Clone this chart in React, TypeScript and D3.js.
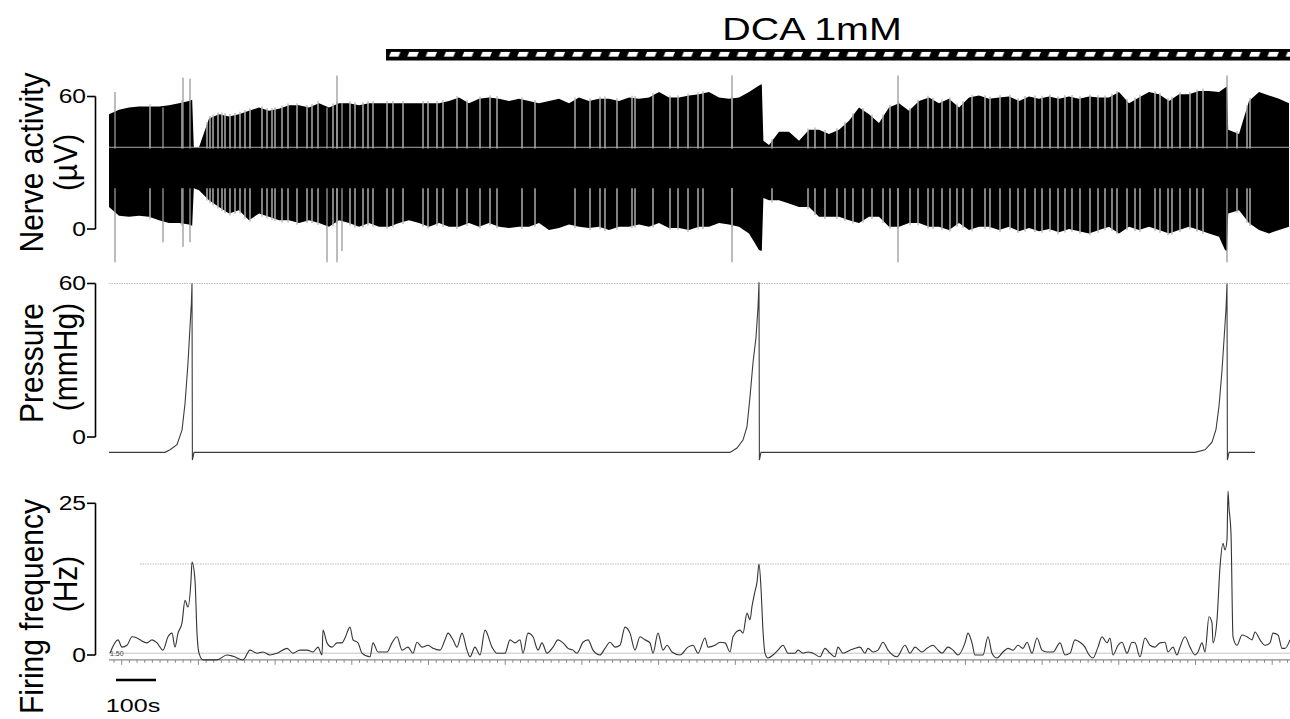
import React from 'react';
import * as d3 from 'd3';

const W = 1290;
const H = 719;
const FONT = 'Liberation Sans, Arial, Helvetica, sans-serif';

// ---------- Nerve activity (µV): [time s, upper envelope, lower envelope] ----------
const nerveEnvelope: [number, number, number][] = [
  [0, 52, 10], [25, 54, 6], [50, 55, 5.5], [75, 55.5, 6], [100, 55.5, 5.5], [125, 55.5, 4], [150, 56, 2.7], [175, 57, 2.7], [200, 58, 2], [208, 58.5, 1.5],
  [212, 37, 18.5], [225, 37, 17.5], [250, 50, 13], [275, 52, 10], [300, 51, 7], [325, 52, 8.5], [350, 53.5, 4], [375, 55, 7], [400, 53.5, 5.5], [425, 54.5, 4],
  [450, 56, 4], [475, 56, 2.7], [500, 55, 4], [525, 57, 2.7], [550, 55, 1], [575, 57, 4], [600, 57, 2.7], [625, 56, 1], [650, 57, 2.7], [675, 57, 1],
  [700, 57, 1], [725, 57, 2.7], [750, 57, 4], [775, 57, 2.7], [800, 57, 1], [825, 57, 2.7], [850, 58, 1], [875, 59.5, 1], [900, 57, 2.7], [925, 59, 1],
  [950, 59.5, 2.7], [975, 59, 1], [1000, 58, 0.5], [1025, 59, 1], [1050, 58, 1], [1075, 57, 2.7], [1100, 58, -0.5], [1125, 59, 0.5], [1150, 57, 2], [1175, 59.5, 1],
  [1200, 58, 0.5], [1225, 59, 1], [1250, 59, -0.5], [1275, 58, 1], [1300, 59.5, 1], [1325, 59, 2], [1350, 59.5, 1], [1375, 62, 2.7], [1400, 59.5, 0.5], [1425, 59.5, 0.5],
  [1450, 60.5, -0.5], [1475, 61, 1], [1500, 62, 1], [1525, 59.5, 2.7], [1550, 59, 2], [1575, 59.5, 1], [1600, 62, -2], [1625, 65, -9.5], [1632, 65.5, -10], [1636, 40, 14],
  [1650, 38, 13], [1675, 44, 13], [1700, 44, 11.5], [1725, 40, 10], [1750, 45, 10], [1775, 45, 5.5], [1800, 43, 5.5], [1825, 45, 5.5], [1850, 49, 4], [1875, 55, 2.7],
  [1900, 52, 5.5], [1925, 48, 5.5], [1950, 55, 1], [1975, 57, 1], [2000, 53.5, 2.7], [2025, 58, 2.7], [2050, 59.5, 1], [2075, 57, 1], [2100, 59, -0.5], [2125, 55, 2.7],
  [2150, 59.5, -0.5], [2175, 60.5, 1], [2200, 59, 1], [2225, 59.5, -0.5], [2250, 60, 1], [2275, 58, -1], [2300, 60, 0.5], [2325, 59, -1], [2350, 60, 0], [2375, 59, -1.5],
  [2400, 60, 0], [2425, 59, -1], [2450, 60, -2], [2475, 59.5, -0.5], [2500, 59.5, 1], [2525, 62, -2], [2550, 57, 1], [2575, 59.5, -0.5], [2600, 62, 1], [2625, 61, -0.5],
  [2650, 58, -2], [2675, 61, -0.5], [2700, 61, 1], [2725, 62.5, -0.5], [2750, 62.5, -2], [2775, 62, -3.5], [2790, 64, -9.5], [2795, 64.5, -10], [2798, 45, 7], [2825, 43, 8.5],
  [2850, 58, 2.7], [2875, 62, -0.5], [2900, 60.5, -2], [2925, 59, -0.5], [2950, 57, 1],
];

// moments where the discharge briefly drops (light gaps in the black band)
const nerveGapTimes = [
  102.5, 182.5,
  245, 252.5, 260, 272.5, 282.5, 290, 302.5, 315, 327.5, 340, 352.5, 382.5, 395, 407.5, 415, 432.5, 447.5, 470,
  495, 507.5, 522.5, 560, 570, 602.5, 615, 635, 647.5, 660, 695, 710, 735, 785, 797.5, 820, 835,
  870, 895, 927.5, 952.5, 970, 1032.5, 1065, 1165, 1202.5, 1227.5, 1240, 1270, 1307.5, 1315, 1360, 1402.5, 1422.5, 1447.5, 1472.5,
  1485, 1557.5, 1657.5, 1747.5, 1765, 1790, 1820, 1840, 1860, 1885, 1907.5, 1935, 1952.5, 1972.5, 2002.5, 2022.5, 2047.5, 2060, 2082.5, 2102.5, 2120, 2135, 2157.5,
  2190, 2202.5, 2227.5, 2252.5, 2272.5, 2290, 2315, 2332.5, 2352.5, 2372.5, 2390, 2407.5, 2427.5, 2452.5, 2472.5,
  2490, 2507.5, 2520, 2545, 2565, 2577.5, 2615, 2627.5, 2647.5, 2657.5, 2677.5, 2702.5, 2720, 2735, 2820, 2845, 2852.5,
];

// large single spikes: [time s, top µV, bottom µV]
const nerveSpikes: [number, number, number][] = [
  [15, 62, -15], [135, 55, -6], [185, 68.5, -8], [202.5, 68, -6], [545, 55, -15], [570, 69.5, -15], [582.5, 57, -10],
  [1557.5, 69.5, -15], [1972.5, 69.5, -15], [2795, 69.5, -15],
];
const nerveCoreTop = 36.5;
const nerveCoreBottom = 18.5;
const nerveMidLine = 37;
const nerveTicks = [0, 60];

// ---------- Pressure (mmHg): [time s, value] ----------
const pressure: [number, number][] = [
  [0, -6], [140, -6], [152.5, -5], [170, -3], [182.5, 2.7], [190, 13], [197.5, 29], [202.5, 43], [206, 52.5], [207.5, 60], [208.5, -9], [212.5, -6],
  [1552.5, -6], [1570, -4.3], [1585, -1.2], [1595, 4], [1602.5, 15.7], [1610, 29], [1617.5, 39], [1622.5, 50.6], [1625, 60.5], [1626, -9], [1630, -6],
  [2715, -6], [2740, -5], [2757.5, -2], [2767.5, 3], [2775, 12], [2782.5, 26], [2787.5, 38], [2792.5, 50], [2795, 60], [2796, -9], [2800, -6], [2865, -6],
];
const pressureRefLine = 60;
const pressureTicks = [0, 60];

// ---------- Firing frequency (Hz): [time s, value] ----------
const firing: [number, number][] = [
  [2.5, 0.3], [22.5, 2.5], [32.5, 1.3], [45, 1.6], [57.5, 3], [70, 2.8], [77.5, 2.5], [95, 2], [107.5, 2.5], [120, 2],
  [135, 0.8], [147.5, 3], [157.5, 3.6], [165, 1.3], [172.5, 3.6], [182.5, 5.3], [190, 9], [197.5, 7.9], [205, 12.3], [207.5, 15.3],
  [215, 12.3], [220, 3.6], [225, 0.3], [235, -0.8], [270, -0.8], [295, 0], [310, -0.2], [335, -0.8], [352.5, 0.8], [370, 0.3],
  [385, 0.5], [402.5, 0], [420, 0.3], [445, 1.1], [460, 0.3], [477.5, 0.8], [495, 0.8], [510, 0.5], [522.5, 1.3], [532.5, 0],
  [535, 4.1], [545, 2], [557.5, 1.3], [570, 2], [582.5, 2], [590, 2.8], [602.5, 4.6], [610, 2.5], [622.5, 2], [632.5, 0.3],
  [652.5, -0.3], [660, 2], [672.5, 0.5], [695, 0.5], [707.5, 2], [720, 3], [732.5, 0.8], [747.5, 1.3], [760, 0.3], [770, 2.1],
  [782.5, 1.3], [797.5, 1.6], [810, 1.1], [827.5, 0.8], [840, 2.5], [847.5, 3.6], [860, 2.5], [870, 1.3], [882.5, 3.6], [895, 0.8],
  [902.5, -0.3], [915, 1.3], [927.5, 0], [940, 4.1], [957.5, 1.3], [970, 0.3], [990, 0.3], [1002.5, 2.5], [1015, 2], [1027.5, 2.5],
  [1035, 0.3], [1047.5, 3.6], [1060, 3], [1072.5, 0.8], [1082.5, 2], [1095, 0.3], [1110, 1.3], [1122.5, 2.5], [1135, 2], [1147.5, 1.1],
  [1160, 0.8], [1170, 0.3], [1185, 2.1], [1197.5, 2.5], [1210, 0.8], [1227.5, 0], [1240, 1.1], [1252.5, 2.1], [1265, 1.3], [1277.5, 1.6],
  [1290, 4.6], [1302.5, 3.6], [1315, 0.8], [1327.5, 3], [1340, 2.5], [1352.5, 2], [1360, 0.3], [1372.5, 3.6], [1385, 0.8], [1395, 1.6],
  [1407.5, 0.5], [1427.5, 0], [1447.5, 1.3], [1460, 1.6], [1472.5, 0.3], [1490, 2.8], [1497.5, 1.3], [1515, 1.6], [1527.5, 2.1], [1540, 2],
  [1552.5, 0.5], [1560, 3], [1577.5, 4.1], [1585, 3.6], [1595, 6.9], [1602.5, 5.8], [1607.5, 8], [1615, 10.5], [1620, 12], [1625, 15],
  [1630, 11], [1635, 4], [1640, 0.3], [1647.5, -0.5], [1660, 0], [1672.5, 0.8], [1685, 1.6], [1697.5, 0.3], [1715, 0.3], [1722.5, 0.8],
  [1735, 0.3], [1747.5, 0.5], [1760, 0.3], [1777.5, -0.3], [1790, 1.1], [1802.5, 0.3], [1815, -0.3], [1822.5, 1.3], [1835, 0.3], [1852.5, 0.8],
  [1865, 1.1], [1877.5, 1.3], [1890, 0.3], [1897.5, 1.1], [1910, 0.5], [1922.5, 0.8], [1935, 2.1], [1947.5, 0.8], [1970, -0.3], [1990, 1.6],
  [2002.5, 0.3], [2015, 1.3], [2032.5, 0.5], [2045, 1.1], [2060, 1.6], [2072.5, 0.8], [2082.5, 0.3], [2097.5, 1.3], [2110, 0.8], [2122.5, 0],
  [2140, 2], [2147.5, 3.6], [2157.5, 2], [2165, 0], [2185, 0], [2197.5, 3], [2207.5, 0.3], [2220, -0.5], [2235, 0.5], [2247.5, 1.1],
  [2260, 0.8], [2272.5, 1.6], [2285, 1.1], [2295, 2.1], [2307.5, 0.3], [2320, 2.8], [2332.5, 0.8], [2345, 0.5], [2360, 0.5], [2377.5, 2],
  [2390, 0], [2402.5, 0.3], [2415, 2.5], [2427.5, 2.1], [2440, 1.3], [2447.5, 0.3], [2460, -0.5], [2472.5, 1.3], [2482.5, 3], [2495, 2],
  [2502.5, 2.8], [2510, 0], [2522.5, 1.6], [2532.5, 2.1], [2545, 0.3], [2557.5, 2.1], [2565, 2], [2577.5, -0.3], [2590, 2.8], [2602.5, 1.6],
  [2615, 1.3], [2627.5, 2], [2640, 2.1], [2647.5, 0.5], [2660, 1.3], [2670, 0], [2677.5, 1.3], [2690, 3], [2702.5, 1.3], [2715, 0],
  [2722.5, 0.5], [2732.5, 2], [2740, 0.5], [2750, 6.3], [2757.5, 5.3], [2760, 2], [2770, 5.8], [2777.5, 14.5], [2785, 18.4], [2790, 17.3],
  [2795, 19], [2797.5, 27], [2800, 24.3], [2805, 20], [2810, 3], [2820, 1.6], [2832.5, 3.3], [2845, 3], [2857.5, 2.5], [2865, 3.8],
  [2877.5, 2.5], [2890, 1.6], [2902.5, 2], [2910, 3.6], [2922.5, 3.3], [2932.5, 1.1], [2940, 1.1], [2952.5, 2.5],
];
const firingRefHigh = 15;
const firingRefLow = 0.3;
const firingBaseline = -0.8;
const firingTicks = [0, 25];

// ---------- Annotations ----------
const drugLabel = 'DCA 1mM';
const drugStart = 692.5;
const drugEnd = 2952.5;
const scaleBarStart = 17.5;
const scaleBarSeconds = 100;
const scaleBarLabel = '100s';
const timeTickFirst = 12.6;
const timeTickStep = 19.175;

function SText(props: {
  x: number; y: number; sx?: number; rotate?: number; anchor?: string; size: number;
  baseline?: string; fill?: string; children: React.ReactNode;
}) {
  const { x, y, sx = 1, rotate = 0, anchor = 'middle', size, baseline, fill = '#000', children } = props;
  return (
    <text
      transform={`translate(${x},${y}) scale(${sx},1)${rotate ? ` rotate(${rotate})` : ''}`}
      textAnchor={anchor}
      dominantBaseline={baseline}
      fontSize={size}
      fontFamily={FONT}
      fill={fill}
    >
      {children}
    </text>
  );
}

export default function App() {
  const x = d3.scaleLinear().domain([0, 2952.5]).range([109, 1290]);
  const yN = d3.scaleLinear().domain([0, 60]).range([229, 96.5]);
  const yP = d3.scaleLinear().domain([0, 60]).range([437, 283.5]);
  const yF = d3.scaleLinear().domain([0, 25]).range([655, 503.3]);

  const nerveArea = d3
    .area<[number, number, number]>()
    .x((d) => x(d[0]))
    .y0((d) => yN(d[2]))
    .y1((d) => yN(d[1]));
  const upperAt = d3.scaleLinear().domain(nerveEnvelope.map((d) => d[0])).range(nerveEnvelope.map((d) => d[1]));
  const lowerAt = d3.scaleLinear().domain(nerveEnvelope.map((d) => d[0])).range(nerveEnvelope.map((d) => d[2]));

  const pressureLine = d3.line<[number, number]>().x((d) => x(d[0])).y((d) => yP(d[1]));
  const firingLine = d3
    .line<[number, number]>()
    .x((d) => x(d[0]))
    .y((d) => yF(d[1]))
    .curve(d3.curveMonotoneX);

  const timeTicks = d3.range(timeTickFirst, 2952.5, timeTickStep);
  const axisX = 95.5;
  const tickFont = 20.5;
  const tickSx = 1.2;

  const yAxis = (scale: d3.ScaleLinear<number, number>, ticks: number[]) => (
    <g>
      <line x1={axisX} x2={axisX} y1={scale(ticks[0])} y2={scale(ticks[ticks.length - 1])} stroke="#000" strokeWidth={1.6} />
      {ticks.map((t) => (
        <g key={t}>
          <line x1={axisX - 8.5} x2={axisX} y1={scale(t)} y2={scale(t)} stroke="#000" strokeWidth={1.6} />
          <SText x={86} y={scale(t)} sx={tickSx} anchor="end" size={tickFont} baseline="central">{t}</SText>
        </g>
      ))}
    </g>
  );

  const titleSx = 1.12;
  const titleSize = 30;

  return (
    <svg width={W} height={H} style={{ position: 'absolute', left: 0, top: 0, background: '#fff' }}>
      <defs>
        <pattern id="hatch" patternUnits="userSpaceOnUse" x={x(drugStart)} y={49} width={18.3} height={11.5}>
          <rect width={18.3} height={11.5} fill="#000" />
          <polygon points="3,7.6 12.5,7.6 14.5,2.8 5,2.8" fill="#fff" />
        </pattern>
      </defs>
      <rect width={W} height={H} fill="#fff" />

      {/* drug bar */}
      <SText x={812} y={39.5} sx={1.27} size={31}>{drugLabel}</SText>
      <rect x={x(drugStart)} y={49} width={x(drugEnd) - x(drugStart)} height={11.5} fill="url(#hatch)" />

      {/* ---------- Nerve activity ---------- */}
      <path d={nerveArea(nerveEnvelope) || ''} fill="#000" />
      {nerveGapTimes.map((t, i) => (
        <g key={'g' + i}>
          <line x1={x(t)} x2={x(t)} y1={yN(nerveCoreTop)} y2={yN(upperAt(t) + 1)} stroke="#b9b9b9" strokeWidth={1.4} />
          <line x1={x(t)} x2={x(t)} y1={yN(nerveCoreBottom)} y2={yN(lowerAt(t) - 1)} stroke="#b9b9b9" strokeWidth={1.4} />
        </g>
      ))}
      {nerveSpikes.map((s, i) => (
        <g key={'s' + i}>
          <line x1={x(s[0])} x2={x(s[0])} y1={yN(nerveCoreTop)} y2={yN(s[1])} stroke="#9a9a9a" strokeWidth={1.3} />
          <line x1={x(s[0])} x2={x(s[0])} y1={yN(nerveCoreBottom)} y2={yN(s[2])} stroke="#9a9a9a" strokeWidth={1.3} />
        </g>
      ))}
      <line x1={x(0)} x2={x(2952.5)} y1={yN(nerveMidLine)} y2={yN(nerveMidLine)} stroke="#a8a8a8" strokeWidth={1} />
      {yAxis(yN, nerveTicks)}
      <SText x={43} y={162.5} sx={titleSx} rotate={-90} size={titleSize}>Nerve activity</SText>
      <SText x={77} y={162.5} sx={titleSx} rotate={-90} size={titleSize}>(µV)</SText>

      {/* ---------- Pressure ---------- */}
      <line x1={x(0)} x2={x(2952.5)} y1={yP(pressureRefLine)} y2={yP(pressureRefLine)} stroke="#bcbcbc" strokeWidth={1} strokeDasharray="1.5,1" />
      <path d={pressureLine(pressure) || ''} fill="none" stroke="#3c3c3c" strokeWidth={1.1} />
      {yAxis(yP, pressureTicks)}
      <SText x={43} y={363} sx={titleSx} rotate={-90} size={titleSize}>Pressure</SText>
      <SText x={77} y={357} sx={titleSx} rotate={-90} size={titleSize}>(mmHg)</SText>

      {/* ---------- Firing frequency ---------- */}
      <line x1={140} x2={x(2952.5)} y1={yF(firingRefHigh)} y2={yF(firingRefHigh)} stroke="#bcbcbc" strokeWidth={1} strokeDasharray="1.5,1" />
      <line x1={x(0)} x2={x(2952.5)} y1={yF(firingRefLow)} y2={yF(firingRefLow)} stroke="#c4c4c4" strokeWidth={1} />
      <line x1={x(0)} x2={x(2952.5)} y1={yF(firingBaseline)} y2={yF(firingBaseline)} stroke="#8a8a8a" strokeWidth={1.3} />
      {timeTicks.map((t, i) => (
        <line key={'tt' + i} x1={x(t)} x2={x(t)} y1={yF(firingBaseline)} y2={yF(firingBaseline) + (i % 10 === 1 ? 5 : 3)} stroke="#8a8a8a" strokeWidth={1} />
      ))}
      <text x={110} y={655.5} fontSize={7} fontFamily={FONT} fill="#444">1.50</text>
      <path d={firingLine(firing) || ''} fill="none" stroke="#333" strokeWidth={1.1} strokeLinejoin="round" />
      {yAxis(yF, firingTicks)}
      <SText x={43} y={606.5} sx={titleSx} rotate={-90} size={titleSize}>Firing frequency</SText>
      <SText x={77} y={584} sx={titleSx} rotate={-90} size={titleSize}>(Hz)</SText>

      {/* scale bar */}
      <line x1={x(scaleBarStart)} x2={x(scaleBarStart + scaleBarSeconds)} y1={680} y2={680} stroke="#000" strokeWidth={2.7} />
      <SText x={133} y={711.5} sx={1.35} size={18.6}>{scaleBarLabel}</SText>
    </svg>
  );
}
